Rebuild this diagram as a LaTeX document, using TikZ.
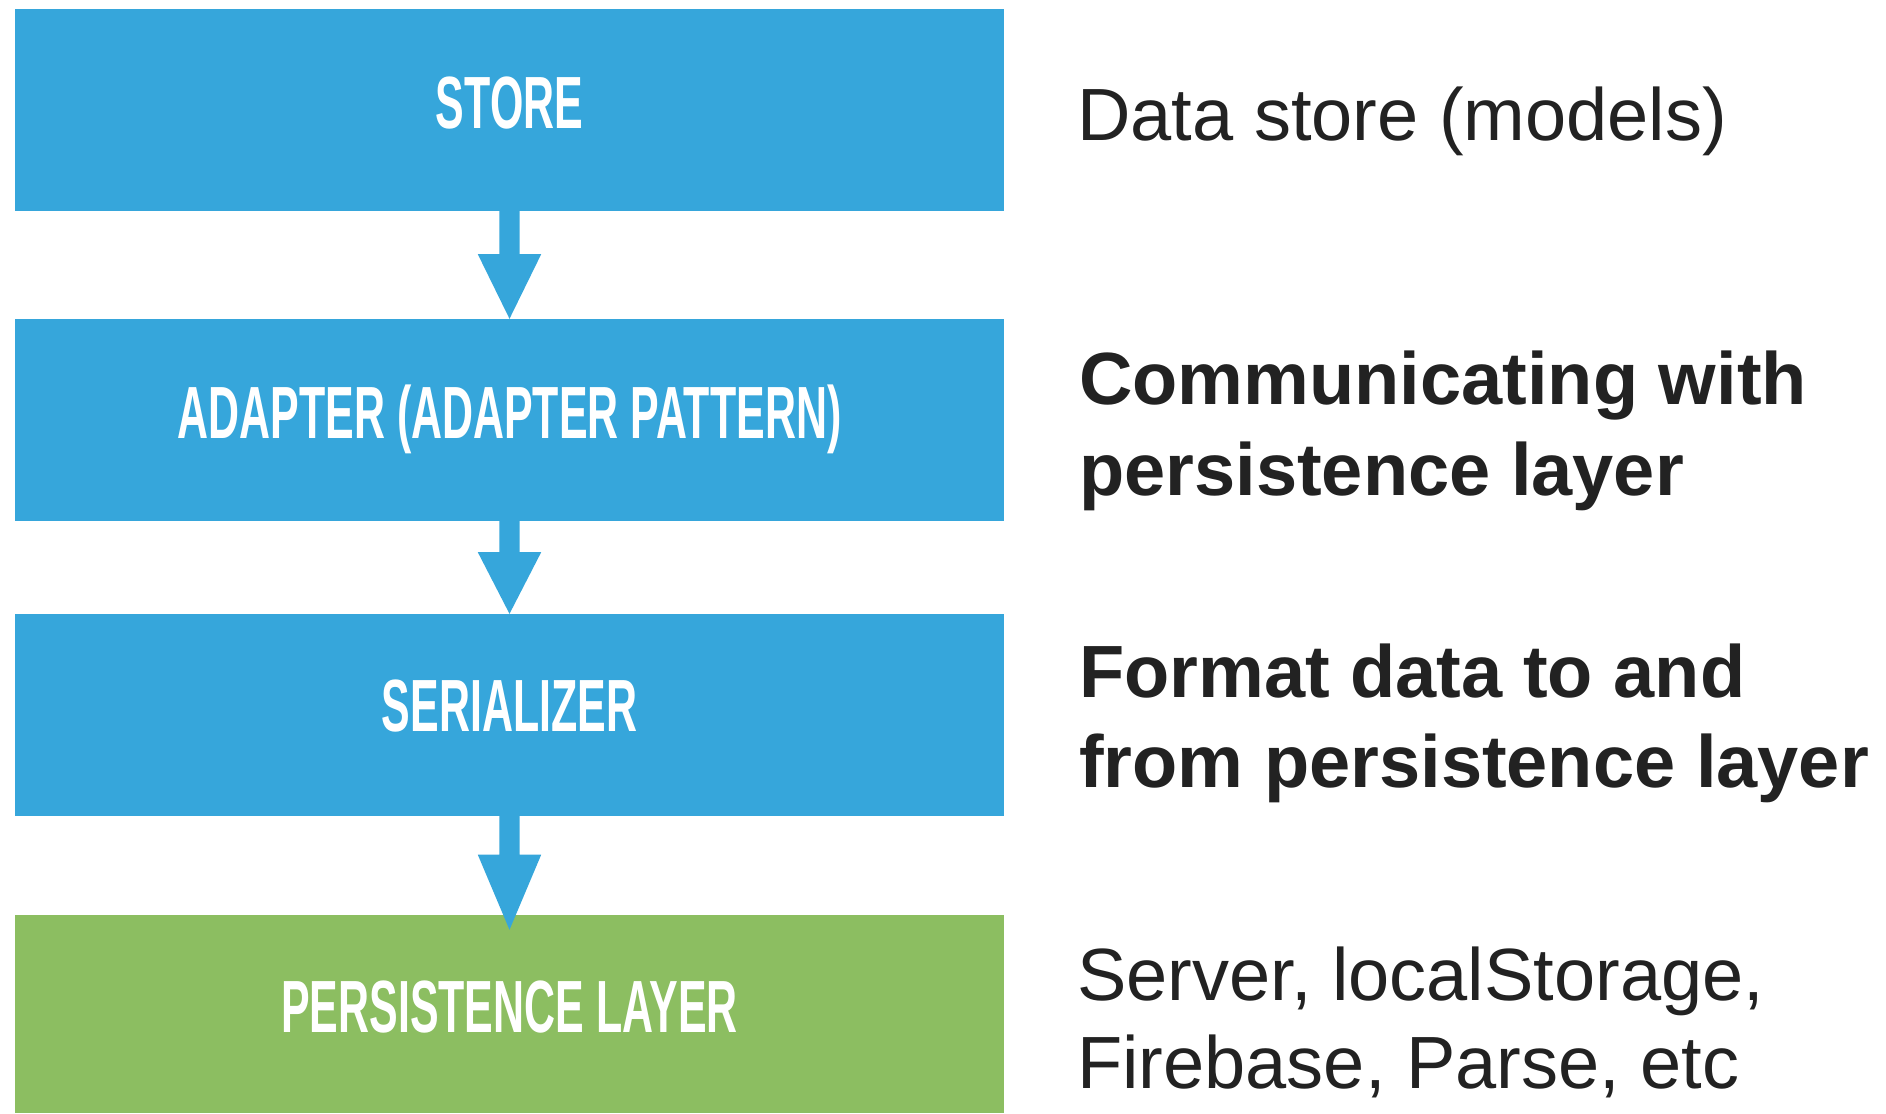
\documentclass[tikz,border=0pt]{standalone}
\usepackage{fontspec}
\setmainfont{Liberation Sans}
\newfontfamily\lblfont[FakeStretch=0.58]{Liberation Sans}
\usetikzlibrary{calc}
\definecolor{boxblue}{RGB}{54,166,219}
\definecolor{boxgreen}{RGB}{140,190,97}
\definecolor{txtdark}{RGB}{34,34,34}
\tikzset{
  layerbox/.style={rectangle, inner sep=0pt, minimum width=989pt, minimum height=202pt, draw=none},
  boxlbl/.style={inner sep=0pt, anchor=base, text=white, font=\lblfont\bfseries\fontsize{74}{80}\selectfont},
  desclight/.style={inner sep=0pt, anchor=base west, text=txtdark, font=\fontsize{74}{88}\selectfont},
  descbold/.style={inner sep=0pt, anchor=base west, text=txtdark, font=\bfseries\fontsize{74}{88}\selectfont},
  flowarrow/.style={fill=boxblue}
}
\begin{document}
\begin{tikzpicture}[x=1pt,y=-1pt]
\useasboundingbox[fill=white] (0,0) rectangle (1886,1113);

% boxes
\node[layerbox, fill=boxblue] (store) at (509.5,110) {};
\node[layerbox, fill=boxblue] (adapter) at (509.5,420) {};
\node[layerbox, fill=boxblue] (serial) at (509.5,715) {};
\node[layerbox, fill=boxgreen, minimum height=198pt] (persist) at (509.5,1014) {};

% box labels
\node[boxlbl] (storelbl) at ($(store.center)+(0,18.5)$) {STORE};
\node[boxlbl] (adapterlbl) at ($(adapter.center)+(0,18)$) {ADAPTER (ADAPTER PATTERN)};
\node[boxlbl] (seriallbl) at ($(serial.center)+(0,16)$) {SERIALIZER};
\node[boxlbl] (persistlbl) at ($(persist.center)+(0,18.7)$) {PERSISTENCE LAYER};

% arrows
\fill[flowarrow] ($(store.south)+(-10.2,0)$) -- ++(0,43) -- ++(-21.5,0)
  -- (adapter.north) -- ($(store.south)+(31.7,43)$) -- ++(-21.5,0)
  -- ($(store.south)+(10.2,0)$) -- cycle;
\fill[flowarrow] ($(adapter.south)+(-10.2,0)$) -- ++(0,31) -- ++(-21.5,0)
  -- (serial.north) -- ($(adapter.south)+(31.7,31)$) -- ++(-21.5,0)
  -- ($(adapter.south)+(10.2,0)$) -- cycle;
\coordinate (tip3) at ($(persist.north)+(0,15)$);
\fill[flowarrow] ($(serial.south)+(-10.2,0)$) -- ++(0,38.5) -- ++(-21.5,0)
  -- (tip3) -- ($(serial.south)+(31.7,38.5)$) -- ++(-21.5,0)
  -- ($(serial.south)+(10.2,0)$) -- cycle;

% descriptions
\node[desclight] (d1) at (1077,140) {Data store (models)};
\node[descbold] (c1) at (1079,404) {Communicating with};
\node[descbold] (c2) at (1079,495) {persistence layer};
\node[descbold] (f1) at (1079,697) {Format data to and};
\node[descbold] (f2) at (1079,787) {from persistence layer};
\node[desclight] (s1) at (1077,1000) {Server, localStorage,};
\node[desclight] (s2) at (1077,1088) {Firebase, Parse, etc};
\end{tikzpicture}
\end{document}
